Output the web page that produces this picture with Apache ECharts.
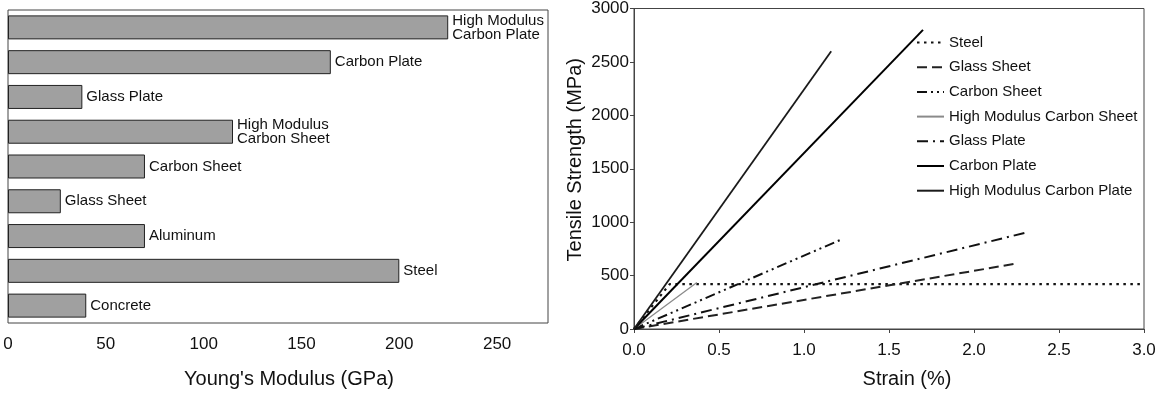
<!DOCTYPE html>
<html>
<head>
<meta charset="utf-8">
<script src="https://cdn.jsdelivr.net/npm/echarts@6/dist/echarts.min.js"></script>
<style>
  html, body { margin: 0; padding: 0; background: #fff; }
  #chart { width: 1163px; height: 394px; }
</style>
</head>
<body>
<div id="chart"></div>
<script>
// left panel: Young's modulus per material (top to bottom)
const categories = ['High Modulus Carbon Plate', 'Carbon Plate', 'Glass Plate', 'High Modulus Carbon Sheet',
  'Carbon Sheet', 'Glass Sheet', 'Aluminum', 'Steel', 'Concrete'];
const barLabels = ['High Modulus\nCarbon Plate', 'Carbon Plate', 'Glass Plate', 'High Modulus\nCarbon Sheet',
  'Carbon Sheet', 'Glass Sheet', 'Aluminum', 'Steel', 'Concrete'];
const modulus = [225, 165, 38, 115, 70, 27, 70, 200, 40];
const modulusTicks = [0, 50, 100, 150, 200, 250];

// right panel: stress-strain lines
const materials = ['Steel', 'Glass Sheet', 'Carbon Sheet', 'High Modulus Carbon Sheet',
  'Glass Plate', 'Carbon Plate', 'High Modulus Carbon Plate'];
const strain = [
  [0, 0.21, 3.0],
  [0, 2.24],
  [0, 1.23],
  [0, 0.37],
  [0, 2.3],
  [0, 1.7],
  [0, 1.16]
];
const strength = [
  [0, 420, 420],
  [0, 610],
  [0, 845],
  [0, 435],
  [0, 900],
  [0, 2800],
  [0, 2600]
];

const font = 'Liberation Sans, Arial, sans-serif';

// line look per material
const lineLooks = [
  { color: '#111', width: 2.2, type: [2.5, 4.5] },
  { color: '#222', width: 2, type: [10, 5] },
  { color: '#111', width: 2, type: [10, 4, 2, 4, 2, 4] },
  { color: '#8a8a8a', width: 1.3, type: 'solid' },
  { color: '#111', width: 2, type: [11, 5, 2, 5] },
  { color: '#000', width: 2, type: 'solid' },
  { color: '#1a1a1a', width: 1.8, type: 'solid' }
];

const lineSeries = materials.map((name, i) => ({
  name: name,
  type: 'line',
  xAxisIndex: 1,
  yAxisIndex: 1,
  symbol: 'none',
  data: strain[i].map((x, j) => [x, strength[i][j]]),
  lineStyle: lineLooks[i],
  itemStyle: { color: lineLooks[i].color }
}));

const chart = echarts.init(document.getElementById('chart'));
chart.setOption({
  animation: false,
  textStyle: { fontFamily: font, color: '#111' },
  grid: [
    { left: 8, top: 10, width: 540, height: 313, show: true, borderColor: '#444', borderWidth: 1 },
    { left: 634, top: 7, width: 510, height: 323, show: true, borderColor: '#444', borderWidth: 1 }
  ],
  legend: {
    orient: 'vertical',
    left: 916,
    top: 35,
    itemWidth: 27,
    itemHeight: 14,
    itemGap: 9.7,
    padding: 0,
    itemStyle: { opacity: 0 },
    textStyle: { fontSize: 15, color: '#111', fontFamily: font },
    data: materials
  },
  xAxis: [
    {
      gridIndex: 0,
      type: 'value',
      min: 0,
      max: 276,
      interval: 50,
      name: "Young's Modulus (GPa)",
      nameLocation: 'middle',
      nameGap: 46,
      nameTextStyle: { fontSize: 20, color: '#111', padding: [0, 0, 0, 22] },
      axisLine: { lineStyle: { color: '#444' } },
      axisTick: { length: 4, customValues: modulusTicks, lineStyle: { color: '#444' } },
      axisLabel: { customValues: modulusTicks, fontSize: 17, margin: 13, color: '#111' },
      splitLine: { show: false }
    },
    {
      gridIndex: 1,
      type: 'value',
      min: 0,
      max: 3,
      interval: 0.5,
      name: 'Strain (%)',
      nameLocation: 'middle',
      nameGap: 40,
      nameTextStyle: { fontSize: 20, color: '#111', padding: [0, 0, 0, 36] },
      axisLine: { lineStyle: { color: '#444' } },
      axisTick: { length: 4, lineStyle: { color: '#444' } },
      axisLabel: { fontSize: 17, margin: 13, color: '#111', formatter: v => v.toFixed(1) },
      splitLine: { show: false }
    }
  ],
  yAxis: [
    {
      gridIndex: 0,
      type: 'category',
      inverse: true,
      data: categories,
      axisLine: { show: false },
      axisTick: { show: false },
      axisLabel: { show: false }
    },
    {
      gridIndex: 1,
      type: 'value',
      min: 0,
      max: 3000,
      interval: 500,
      name: 'Tensile Strength (MPa)',
      nameLocation: 'middle',
      nameGap: 49,
      nameTextStyle: { fontSize: 20, color: '#111', padding: [0, 0, 0, 18] },
      axisLine: { lineStyle: { color: '#444' } },
      axisTick: { length: 4, lineStyle: { color: '#444' } },
      axisLabel: { fontSize: 17, margin: 5, color: '#111', formatter: v => String(v) },
      splitLine: { show: false }
    }
  ],
  series: [
    {
      type: 'bar',
      xAxisIndex: 0,
      yAxisIndex: 0,
      barWidth: 24,
      data: modulus,
      itemStyle: { color: '#a0a0a0', borderColor: '#222', borderWidth: 1 },
      label: {
        show: true,
        position: 'right',
        distance: 4,
        fontSize: 15,
        lineHeight: 14,
        color: '#111',
        formatter: p => barLabels[p.dataIndex]
      }
    }
  ].concat(lineSeries)
});
</script>
</body>
</html>
